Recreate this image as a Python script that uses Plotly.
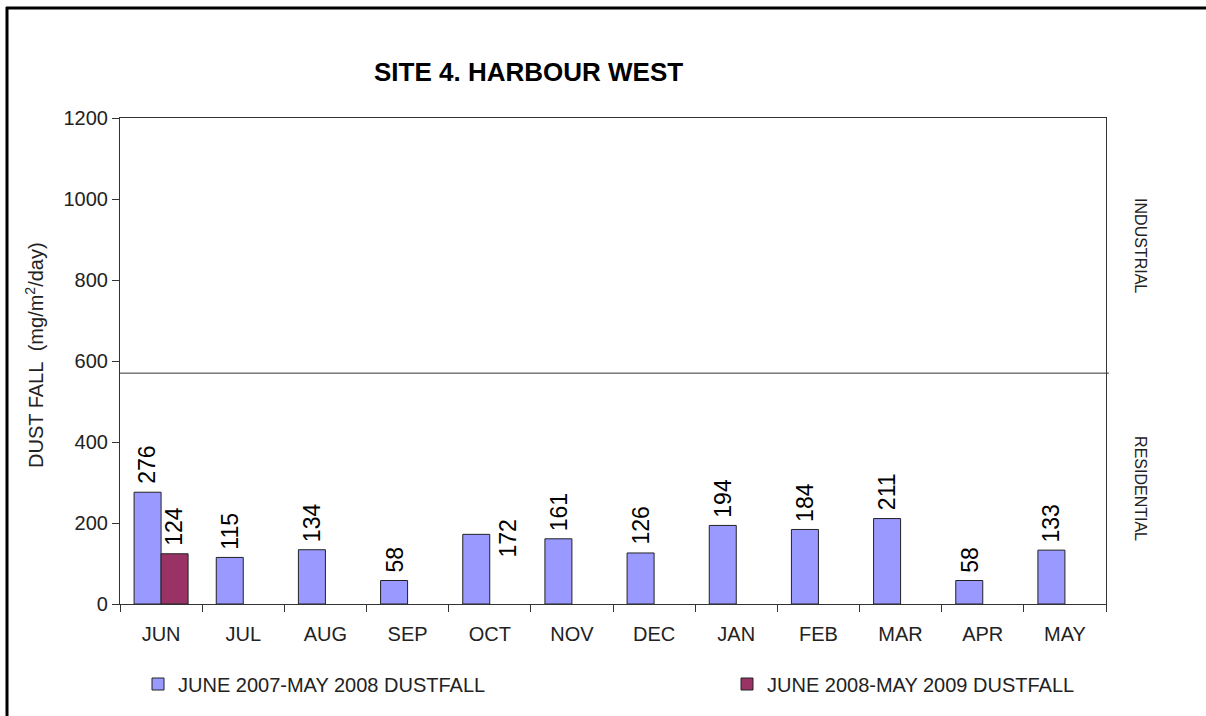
import plotly.graph_objects as go

# ---------------- data ----------------
months = ["JUN", "JUL", "AUG", "SEP", "OCT", "NOV", "DEC", "JAN", "FEB", "MAR", "APR", "MAY"]
dust_2007_08 = [276, 115, 134, 58, 172, 161, 126, 194, 184, 211, 58, 133]
dust_2008_09 = [124, None, None, None, None, None, None, None, None, None, None, None]
series_names = ["JUNE 2007-MAY 2008 DUSTFALL", "JUNE 2008-MAY 2009 DUSTFALL"]
y_ticks = [0, 200, 400, 600, 800, 1000, 1200]
zone_limit = 570
zone_names = ["INDUSTRIAL", "RESIDENTIAL"]
title_text = "SITE 4. HARBOUR WEST"

# ---------------- layout geometry ----------------
W, H = 1206, 716
L, R, T, B = 120, 100, 118, 112
PW, PH = W - L - R, H - T - B


def px(x):
    return (x - L) / PW


def py(y):
    return (T + PH - y) / PH


FONT = "Arial, Liberation Sans, sans-serif"
colors = ["#9999FF", "#993366"]
legend_ids = ["legend", "legend2"]

fig = go.Figure()
for name, vals, col, lg in zip(series_names, [dust_2007_08, dust_2008_09], colors, legend_ids):
    fig.add_trace(go.Bar(
        x=months, y=vals, name=name, legend=lg,
        marker=dict(color=col, line=dict(color="#222222", width=1)),
        hoverinfo="x+y",
    ))

bargap = 0.343
half = (1 - bargap) / 4 * PW / len(months)
LABEL_FONT = dict(family=FONT, size=23, color="#000")

annotations = []
moved_labels = {"OCT"}
for m, v in zip(months, dust_2007_08):
    if v is None:
        continue
    if m in moved_labels:
        annotations.append(dict(x=m, y=v, xref="x", yref="y", text=str(v), showarrow=False,
                                textangle=-90, xanchor="center", yanchor="middle",
                                xshift=half + 5, yshift=-4, font=LABEL_FONT))
    else:
        annotations.append(dict(x=m, y=v, xref="x", yref="y", text=str(v), showarrow=False,
                                textangle=-90, xanchor="center", yanchor="bottom",
                                xshift=-half, yshift=6, font=LABEL_FONT))
for m, v in zip(months, dust_2008_09):
    if v is None:
        continue
    annotations.append(dict(x=m, y=v, xref="x", yref="y", text=str(v), showarrow=False,
                            textangle=-90, xanchor="center", yanchor="bottom",
                            xshift=half, yshift=6, font=LABEL_FONT))

# zone labels on the right
annotations.append(dict(x=px(1151), y=(y_ticks[-1] + zone_limit) / 2, xref="paper", yref="y",
                        text=zone_names[0], showarrow=False, textangle=90,
                        font=dict(family=FONT, size=16, color="#222")))
annotations.append(dict(x=px(1151), y=zone_limit / 2, xref="paper", yref="y",
                        text=zone_names[1], showarrow=False, textangle=90,
                        font=dict(family=FONT, size=16, color="#222")))
# title
annotations.append(dict(x=px(528), y=py(72), xref="paper", yref="paper", text="<b>" + title_text + "</b>",
                        showarrow=False, xanchor="center", yanchor="middle",
                        font=dict(family=FONT, size=26, color="#000")))
# y axis title
annotations.append(dict(x=px(34), y=py(355), xref="paper", yref="paper",
                        text="DUST FALL  (mg/m<sup>2</sup>/day)", showarrow=False, textangle=-90,
                        xanchor="center", yanchor="middle",
                        font=dict(family=FONT, size=20, color="#222")))

shapes = [
    dict(type="line", xref="paper", yref="y", x0=0, x1=1.003, y0=zone_limit, y1=zone_limit,
         line=dict(color="#333333", width=1)),
    dict(type="line", xref="paper", yref="paper", x0=px(7), x1=px(7), y0=py(7), y1=py(H),
         line=dict(color="#000", width=3)),
    dict(type="line", xref="paper", yref="paper", x0=px(6), x1=px(W), y0=py(8), y1=py(8),
         line=dict(color="#000", width=3)),
]

LEG_FONT = dict(family=FONT, size=20, color="#222")
fig.update_layout(
    width=W, height=H,
    margin=dict(l=L, r=R, t=T, b=B, autoexpand=False),
    paper_bgcolor="white", plot_bgcolor="white",
    barmode="group", bargap=bargap, bargroupgap=0,
    font=dict(family=FONT, size=20, color="#222"),
    showlegend=True,
    legend=dict(orientation="h", x=px(138), xanchor="left", y=py(684), yanchor="middle",
                font=LEG_FONT, bgcolor="rgba(0,0,0,0)"),
    legend2=dict(orientation="h", x=px(727), xanchor="left", y=py(684), yanchor="middle",
                 font=LEG_FONT, bgcolor="rgba(0,0,0,0)"),
    xaxis=dict(type="category", categoryorder="array", categoryarray=months,
               showline=True, linecolor="#333", linewidth=1.2, mirror=True,
               ticks="outside", tickson="boundaries", ticklen=7, tickcolor="#333",
               ticklabelstandoff=12,
               tickfont=dict(family=FONT, size=20, color="#222"), showgrid=False,
               range=[-0.5, len(months) - 0.5]),
    yaxis=dict(range=[0, 1200], tickvals=y_ticks, showline=True, linecolor="#333", linewidth=1.2,
               mirror=True, ticks="outside", ticklen=7, tickcolor="#333", showgrid=False,
               zeroline=False, tickfont=dict(family=FONT, size=20, color="#222")),
    annotations=annotations,
    shapes=shapes,
)

fig.write_html("out.html", config={"displayModeBar": False},
               post_script="document.body.style.margin='0';"
                           "document.body.style.overflow='hidden';"
                           "document.documentElement.style.overflow='hidden';")
